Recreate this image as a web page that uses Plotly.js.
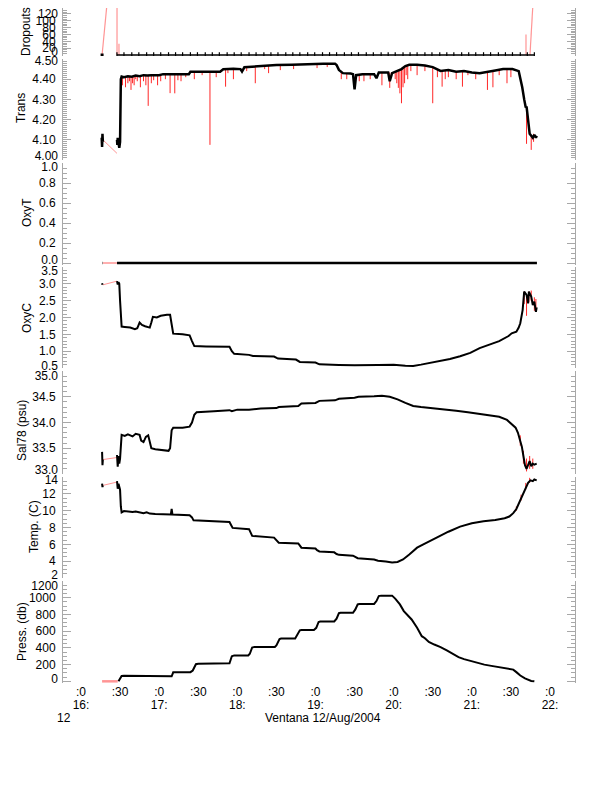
<!DOCTYPE html>
<html><head><meta charset="utf-8">
<script src="https://cdn.plot.ly/plotly-3.0.1.min.js"></script>
<style>html,body{margin:0;padding:0;background:#fff}#chart{width:612px;height:785px}</style>
</head><body><div id="chart"></div>
<script>
// ---------------- DATA (time in decimal hours, 12 Aug 2004) ----------------
const xTickVals = [16,16.5,17,17.5,18,18.5,19,19.5,20,20.5,21,21.5,22];
const xTickText = [':0',':30',':0',':30',':0',':30',':0',':30',':0',':30',':0',':30',':0'];
const xHourVals = [16,17,18,19,20,21,22];
const xHourText = ['16:','17:','18:','19:','20:','21:','22:'];

const dropTicks = [0,20,40,60,80,100,120];
const transTicks = [4.0,4.1,4.2,4.3,4.4,4.5];
const oxytTicks = [0,0.2,0.4,0.6,0.8,1.0];
const oxycTicks = [0.5,1.0,1.5,2.0,2.5,3.0,3.5];
const salTicks = [33.0,33.5,34.0,34.5,35.0];
const tempTicks = [2,4,6,8,10,12,14];
const pressTicks = [0,200,400,600,800,1000,1200];

// Dropouts: sample times along the zero line, and their values
const dropT = [16.46,16.55,16.65,16.74,16.84,16.93,17.02,17.12,17.21,17.30,17.40,17.49,17.59,17.68,17.77,17.87,17.96,18.05,18.15,18.24,18.34,18.43,18.52,18.62,18.71,18.80,18.90,18.99,19.09,19.18,19.27,19.37,19.46,19.55,19.65,19.74,19.84,19.93,20.02,20.12,20.21,20.30,20.40,20.49,20.59,20.68,20.77,20.87,20.96,21.05,21.15,21.24,21.34,21.43,21.52,21.62,21.71,21.80];
const dropV = [0,0,0,0,0,0,0,0,0,0,0,0,0,0,0,0,0,0,0,0,0,0,0,0,0,0,0,0,0,0,0,0,0,0,0,0,0,0,0,0,0,0,0,0,0,0,0,0,0,0,0,0,0,0,0,0,0,0];
const dropStart = [[16.27,0]];
const dropRaw = [[16.27,0],[16.333,150],null,[16.461,0],[16.461,150],null,[16.486,0],[16.486,33],null,[21.693,0],[21.693,60],null,[21.744,0],[21.782,150]];

// Trans
const transPts = [[16.265,4.11],[16.27,4.065],[16.275,4.13],[16.28,4.09],null,
 [16.461,4.10],[16.465,4.075],[16.47,4.11],[16.48,4.08],[16.49,4.06],[16.50,4.09],[16.505,4.25],[16.51,4.40],[16.52,4.413],
 [16.55,4.41],[16.60,4.415],[16.65,4.412],[16.70,4.418],[16.75,4.415],[16.80,4.42],[16.85,4.418],[16.90,4.42],[16.95,4.42],
 [17.00,4.42],[17.05,4.425],[17.10,4.425],[17.20,4.425],[17.30,4.428],[17.38,4.425],[17.40,4.437],[17.50,4.437],[17.60,4.437],
 [17.70,4.438],[17.78,4.437],[17.82,4.449],[17.95,4.452],[18.04,4.45],[18.06,4.438],[18.09,4.459],[18.20,4.462],[18.30,4.466],
 [18.40,4.468],[18.50,4.47],[18.70,4.472],[18.90,4.476],[19.10,4.477],[19.25,4.477],[19.27,4.47],[19.30,4.446],[19.35,4.43],
 [19.45,4.428],[19.48,4.425],[19.50,4.35],[19.52,4.42],[19.60,4.425],[19.75,4.425],[19.78,4.405],[19.81,4.433],[19.93,4.433],
 [19.95,4.39],[19.98,4.43],[20.05,4.44],[20.10,4.45],[20.15,4.465],[20.20,4.471],[20.30,4.471],[20.40,4.468],[20.50,4.46],
 [20.60,4.441],[20.70,4.445],[20.80,4.437],[20.90,4.44],[21.00,4.433],[21.10,4.43],[21.20,4.435],[21.30,4.443],[21.40,4.45],
 [21.46,4.45],[21.52,4.45],[21.60,4.44],[21.62,4.41],[21.645,4.36],[21.67,4.30],[21.69,4.26],[21.70,4.265],[21.72,4.20],
 [21.74,4.13],[21.76,4.12],[21.78,4.11],[21.80,4.125],[21.82,4.11],[21.83,4.12]];
const transRaw = [[16.28,4.10],[16.46,4.033]];
const transSpikes = [[16.53,4.41,4.37],[16.57,4.41,4.36],[16.60,4.415,4.38],[16.62,4.412,4.39],[16.64,4.415,4.347],[16.66,4.412,4.38],
 [16.68,4.418,4.37],[16.70,4.418,4.40],[16.72,4.418,4.39],[16.76,4.415,4.36],[16.80,4.42,4.39],[16.83,4.418,4.37],[16.86,4.418,4.268],
 [16.90,4.42,4.38],[16.93,4.42,4.395],[16.98,4.42,4.37],[17.02,4.42,4.39],[17.08,4.425,4.40],[17.14,4.425,4.331],[17.20,4.425,4.33],
 [17.24,4.425,4.395],[17.28,4.428,4.39],[17.34,4.428,4.41],[17.45,4.437,4.40],[17.55,4.437,4.42],[17.65,4.437,4.075],[17.73,4.438,4.41],
 [17.85,4.449,4.363],[17.88,4.45,4.43],[17.95,4.452,4.40],[18.12,4.459,4.44],[18.23,4.462,4.38],[18.35,4.467,4.45],[18.40,4.468,4.43],
 [18.55,4.47,4.445],[18.72,4.472,4.45],[19.02,4.476,4.455],[19.15,4.477,4.46],[19.33,4.44,4.40],[19.40,4.43,4.40],[19.56,4.42,4.39],
 [19.62,4.425,4.39],[19.70,4.425,4.40],[19.85,4.433,4.37],[19.95,4.433,4.357],[20.02,4.44,4.40],[20.04,4.44,4.38],[20.06,4.44,4.357],
 [20.08,4.445,4.33],[20.10,4.45,4.281],[20.12,4.455,4.36],[20.14,4.46,4.38],[20.16,4.465,4.42],[20.18,4.47,4.40],[20.22,4.471,4.44],
 [20.30,4.471,4.42],[20.40,4.468,4.44],[20.50,4.46,4.281],[20.56,4.45,4.41],[20.62,4.441,4.363],[20.66,4.443,4.40],[20.70,4.445,4.41],
 [20.80,4.437,4.40],[20.88,4.44,4.363],[20.95,4.44,4.42],[21.05,4.432,4.40],[21.20,4.435,4.347],[21.27,4.44,4.36],[21.35,4.445,4.42],
 [21.45,4.45,4.38],[21.50,4.45,4.41],[21.70,4.26,4.08],[21.76,4.12,4.05],[21.79,4.13,4.09]];

// OxyT
const oxytPts = [[16.27,0],[16.275,0],null,[16.461,0],[21.833,0]];
const oxytRaw = [[16.28,0],[16.46,0]];

// OxyC
const oxycPts = [[16.27,3.02],[16.275,2.97],null,[16.461,3.08],[16.47,2.98],[16.48,3.05],[16.49,3.0],[16.50,2.5],[16.51,1.9],[16.52,1.73],
 [16.56,1.72],[16.63,1.70],[16.69,1.65],[16.72,1.68],[16.75,1.85],[16.78,1.78],[16.82,1.74],[16.88,1.70],[16.90,1.85],[16.92,2.02],
 [16.97,2.0],[17.02,2.05],[17.10,2.08],[17.14,2.08],[17.16,1.8],[17.18,1.52],[17.30,1.5],[17.39,1.47],[17.42,1.3],[17.45,1.15],
 [17.60,1.14],[17.90,1.13],[17.93,1.0],[17.96,0.92],[18.15,0.89],[18.20,0.86],[18.47,0.84],[18.52,0.78],[18.75,0.75],[18.80,0.68],
 [19.00,0.66],[19.05,0.61],[19.30,0.59],[19.50,0.58],[19.80,0.59],[20.00,0.60],[20.15,0.57],[20.25,0.56],[20.35,0.60],[20.46,0.65],
 [20.60,0.71],[20.72,0.77],[20.85,0.85],[20.98,0.95],[21.10,1.09],[21.20,1.16],[21.27,1.23],[21.35,1.30],[21.42,1.38],[21.47,1.45],
 [21.51,1.53],[21.57,1.58],[21.60,1.70],[21.62,1.83],[21.65,2.22],[21.67,2.77],[21.70,2.67],[21.72,2.42],[21.73,2.77],[21.76,2.62],
 [21.78,2.37],[21.80,2.47],[21.82,2.17],[21.83,2.3]];
const oxycRaw = [[16.28,2.97],[16.46,3.08]];
const oxycSpikes = [[21.67,2.77,2.40],[21.70,2.67,2.05],[21.73,2.77,2.45],[21.76,2.80,2.5],[21.80,2.6,2.2],[21.82,2.55,2.25]];

// Sal78
const salPts = [[16.27,33.43],[16.275,33.17],[16.28,33.28],null,[16.461,33.37],[16.47,33.14],[16.48,33.35],[16.49,33.2],[16.50,33.3],
 [16.51,33.6],[16.52,33.76],[16.56,33.74],[16.60,33.77],[16.66,33.73],[16.70,33.78],[16.75,33.76],[16.77,33.65],[16.80,33.62],
 [16.83,33.72],[16.86,33.75],[16.88,33.6],[16.90,33.5],[16.95,33.48],[17.05,33.47],[17.12,33.45],[17.14,33.5],[17.16,33.85],
 [17.18,33.9],[17.30,33.9],[17.39,33.92],[17.42,34.0],[17.45,34.15],[17.48,34.2],[17.70,34.22],[17.90,34.24],[17.93,34.22],
 [18.00,34.25],[18.15,34.25],[18.30,34.27],[18.50,34.28],[18.53,34.3],[18.78,34.32],[18.82,34.37],[19.00,34.38],[19.05,34.42],
 [19.25,34.43],[19.30,34.46],[19.50,34.48],[19.55,34.5],[19.75,34.51],[19.85,34.52],[19.95,34.5],[20.05,34.45],[20.15,34.38],
 [20.25,34.32],[20.35,34.3],[20.50,34.28],[20.65,34.26],[20.80,34.23],[20.95,34.2],[21.10,34.17],[21.25,34.13],[21.35,34.11],
 [21.45,34.05],[21.50,33.98],[21.56,33.9],[21.59,33.8],[21.62,33.66],[21.64,33.53],[21.66,33.35],[21.68,33.17],[21.70,33.1],
 [21.72,33.2],[21.74,33.25],[21.76,33.15],[21.78,33.2],[21.80,33.18],[21.83,33.2]];
const salRaw = [[16.28,33.28],[16.46,33.32]];
const salSpikes = [[21.62,33.75,33.55],[21.66,33.45,33.2],[21.70,33.3,33.05],[21.74,33.35,33.1],[21.78,33.3,33.1]];

// Temp
const tempPts = [[16.27,13.2],[16.275,12.8],[16.28,13.0],null,[16.461,13.5],[16.47,12.6],[16.48,13.2],[16.49,12.9],[16.50,12.5],
 [16.51,10.5],[16.52,9.8],[16.55,9.95],[16.60,9.9],[16.66,9.85],[16.70,9.9],[16.76,9.8],[16.80,9.7],[16.84,9.8],[16.88,9.65],
 [16.95,9.6],[17.10,9.55],[17.15,9.55],[17.16,10.2],[17.17,9.55],[17.39,9.45],[17.42,9.2],[17.44,8.85],[17.60,8.8],[17.90,8.65],
 [17.92,8.3],[17.94,7.95],[18.15,7.8],[18.17,7.4],[18.19,7.0],[18.47,6.8],[18.50,6.5],[18.53,6.2],[18.78,6.1],[18.80,5.9],
 [18.82,5.6],[19.00,5.5],[19.02,5.3],[19.05,5.15],[19.24,5.05],[19.27,4.85],[19.30,4.75],[19.48,4.65],[19.51,4.45],[19.54,4.35],
 [19.75,4.2],[19.80,4.05],[19.90,3.95],[19.98,3.85],[20.05,3.9],[20.12,4.2],[20.20,4.8],[20.30,5.6],[20.38,6.0],[20.45,6.3],
 [20.55,6.8],[20.70,7.5],[20.85,8.1],[21.00,8.5],[21.15,8.75],[21.30,8.9],[21.42,9.1],[21.48,9.3],[21.53,9.7],[21.57,10.2],
 [21.60,10.8],[21.63,11.5],[21.66,12.2],[21.69,12.8],[21.72,13.3],[21.75,13.6],[21.78,13.5],[21.80,13.7],[21.83,13.6]];
const tempRaw = [[16.28,13.0],[16.46,13.4]];
const tempSpikes = [[21.57,10.5,10.0],[21.63,11.9,11.2],[21.69,13.3,12.5],[21.74,13.9,13.3]];

// Press
const pressPts = [[16.27,0],null,[16.48,0],[16.50,30],[16.52,65],[16.55,68],[16.70,66],[16.93,64],[16.95,58],[17.14,56],[17.16,60],
 [17.18,108],[17.40,110],[17.43,130],[17.47,205],[17.50,210],[17.84,208],[17.90,215],[17.93,300],[17.96,310],[18.14,310],[18.16,330],
 [18.19,405],[18.22,412],[18.48,410],[18.50,430],[18.54,505],[18.56,512],[18.74,512],[18.76,540],[18.80,610],[18.82,615],[18.98,615],
 [19.01,640],[19.04,710],[19.06,716],[19.24,716],[19.27,750],[19.30,815],[19.32,820],[19.48,820],[19.51,860],[19.54,920],[19.56,925],
 [19.75,925],[19.78,960],[19.81,1020],[19.84,1025],[19.98,1025],[20.02,990],[20.08,920],[20.13,840],[20.17,800],[20.23,740],
 [20.30,640],[20.36,540],[20.40,515],[20.45,470],[20.52,440],[20.60,410],[20.68,370],[20.75,330],[20.83,290],[20.90,265],[21.00,240],
 [21.08,215],[21.16,200],[21.25,185],[21.32,175],[21.40,165],[21.48,155],[21.53,140],[21.57,110],[21.62,70],[21.68,35],[21.72,15],
 [21.76,5],[21.80,0]];
const pressRaw = [[16.27,0],[16.47,0]];

// ---------------- BUILD ----------------
const PLOT_TOP = 8, PLOT_BOTTOM = 683;
const frac = px => (PLOT_BOTTOM - px) / (PLOT_BOTTOM - PLOT_TOP);
const RAW = 'rgba(255,90,90,0.65)', SPK = 'rgba(255,0,0,0.85)', AX = '#a8a8a8';
const XRANGE = [15.77, 22.32];

function xy(pts){ return {x: pts.map(p => p ? p[0] : null), y: pts.map(p => p ? p[1] : null)}; }
function spk(arr){ const x=[], y=[]; arr.forEach(s => { x.push(s[0], s[0], null); y.push(s[1], s[2], null); }); return {x, y}; }

const traces = [];
function add(data, yax, line, extra){ traces.push(Object.assign({type:'scatter', mode:'lines', x:data.x, y:data.y, yaxis:yax, line:line, connectgaps:false, hoverinfo:'skip'}, extra||{})); }

// Dropouts
add(xy(dropRaw), 'y', {color:RAW, width:1.2});
add({x:dropT, y:dropV}, 'y', {color:'#000', width:1.5}, {mode:'lines+markers', marker:{symbol:'line-ns-open', size:4, line:{width:1.2, color:'#b00000'}}});
add(xy(dropStart), 'y', {color:'#000'}, {mode:'markers', marker:{symbol:'square', size:3, color:'#000'}});
// Trans
add(xy(transRaw), 'y2', {color:RAW, width:1});
add(spk(transSpikes), 'y2', {color:SPK, width:1});
add(xy(transPts), 'y2', {color:'#000', width:2.5});
// OxyT
add(xy(oxytRaw), 'y3', {color:RAW, width:1.5});
add(xy(oxytPts), 'y3', {color:'#000', width:2.5});
// OxyC
add(xy(oxycRaw), 'y4', {color:RAW, width:1});
add(spk(oxycSpikes), 'y4', {color:SPK, width:1});
add(xy(oxycPts), 'y4', {color:'#000', width:2});
// Sal
add(xy(salRaw), 'y5', {color:RAW, width:1});
add(spk(salSpikes), 'y5', {color:SPK, width:1});
add(xy(salPts), 'y5', {color:'#000', width:2});
// Temp
add(xy(tempRaw), 'y6', {color:RAW, width:1});
add(spk(tempSpikes), 'y6', {color:SPK, width:1});
add(xy(tempPts), 'y6', {color:'#000', width:2});
// Press
add(xy(pressRaw), 'y7', {color:RAW, width:2.5});
add(xy(pressPts), 'y7', {color:'#000', width:2});
// hour-label axis carrier
traces.push({type:'scatter', x:[], y:[], xaxis:'x2', yaxis:'y7', hoverinfo:'skip'});

const f0 = v => String(v), f1 = v => v.toFixed(1), f2 = v => v.toFixed(2);

// panel layout: pixel extents, range, ticks, format, minor step, edge-label shifts in px (top label down, bottom label up)
const panels = [
  {top:8,   bot:56,  range:[-2.9,137.5], ticks:dropTicks,  fmt:f0, minor:5,    edge:[0,-3]},
  {top:59,  bot:160, range:[4.0,4.5],    ticks:transTicks, fmt:f2, minor:0.01, edge:[2,-4]},
  {top:163, bot:265, range:[-0.02,1.0],  ticks:oxytTicks,  fmt:f1, minor:0.05, edge:[4,-3]},
  {top:267, bot:368, range:[0.5,3.5],    ticks:oxycTicks,  fmt:f1, minor:0.1,  edge:[4,-2]},
  {top:371, bot:474, range:[33,35],      ticks:salTicks,   fmt:f1, minor:0.1,  edge:[5,-4]},
  {top:477, bot:578, range:[2,14],       ticks:tempTicks,  fmt:f0, minor:0.5,  edge:[3,-3]},
  {top:581, bot:683, range:[-20,1200],   ticks:pressTicks, fmt:f0, minor:50,   edge:[5,-3]}
];

const layout = {
  width:612, height:785, margin:{l:63, r:37, t:PLOT_TOP, b:785-PLOT_BOTTOM},
  paper_bgcolor:'#fff', plot_bgcolor:'#fff', showlegend:false,
  font:{family:'"Liberation Sans", Arial, sans-serif', size:12, color:'#000'},
  xaxis:{anchor:'y7', range:XRANGE, tickmode:'array', tickvals:xTickVals, ticktext:xTickText,
         ticks:'', showline:false, showgrid:false, zeroline:false, tickfont:{size:12}},
  xaxis2:{anchor:'y7', overlaying:'x', range:XRANGE, tickmode:'array', tickvals:xHourVals, ticktext:xHourText,
         ticks:'', showline:false, showgrid:false, zeroline:false, side:'bottom', ticklabelstandoff:13, tickfont:{size:12}},
  annotations: []
};

let extraId = 8;
panels.forEach((p, i) => {
  const name = i === 0 ? 'yaxis' : 'yaxis' + (i + 1);
  const mainId = i === 0 ? 'y' : 'y' + (i + 1);
  const n = p.ticks.length;
  const txt = p.ticks.map((v, k) => (p.edge && (k === 0 || k === n - 1)) ? '' : p.fmt(v));
  layout[name] = {
    domain:[frac(p.bot), frac(p.top)], range:p.range, anchor:'x',
    tickmode:'array', tickvals:p.ticks, ticktext:txt,
    ticks:'inside', ticklen:8, tickcolor:AX, tickwidth:1,
    showline:true, linecolor:AX, linewidth:1, mirror:'ticks',
    showgrid:false, zeroline:false, ticklabelstandoff:4,
    minor:{ticks:'inside', ticklen:4, tickcolor:AX, tickmode:'linear', tick0:p.ticks[0], dtick:p.minor, showgrid:false},
    tickfont:{size:12, color:'#000'}
  };
  if (p.edge) {
    [[n - 1, p.edge[0]], [0, p.edge[1]]].forEach(([k, shift]) => {
      const id = 'y' + extraId;
      layout['yaxis' + extraId] = {
        domain:[frac(p.bot), frac(p.top)], range:p.range, anchor:'x', overlaying:mainId, side:'left',
        tickmode:'array', tickvals:[p.ticks[k]], ticktext:[p.fmt(p.ticks[k])],
        ticks:'', showline:false, showgrid:false, zeroline:false, ticklabelstandoff:4, ticklabelshift:shift,
        tickfont:{size:12, color:'#000'}
      };
      traces.push({type:'scatter', x:[], y:[], yaxis:id, hoverinfo:'skip'});
      extraId++;
    });
  }
});

function ann(text, xpx, ypx, angle){
  layout.annotations.push({text:text, xref:'paper', yref:'paper', x:0, y:frac(ypx), xshift:xpx-63,
    xanchor:'center', yanchor:'middle', showarrow:false, textangle:angle||0, font:{size:12, color:'#000'}});
}
ann('Dropouts', 26, 32, -90);
ann('Trans', 21, 108, -90);
ann('OxyT', 27, 213, -90);
ann('OxyC', 27, 318, -90);
ann('Sal78 (psu)', 22, 431, -90);
ann('Temp. (C)', 34, 527, -90);
ann('Press. (db)', 22, 632, -90);
ann('12', 64, 718, 0);
ann('Ventana 12/Aug/2004', 323, 718, 0);

Plotly.newPlot('chart', traces, layout, {staticPlot:true, displayModeBar:false});
</script>
</body></html>
